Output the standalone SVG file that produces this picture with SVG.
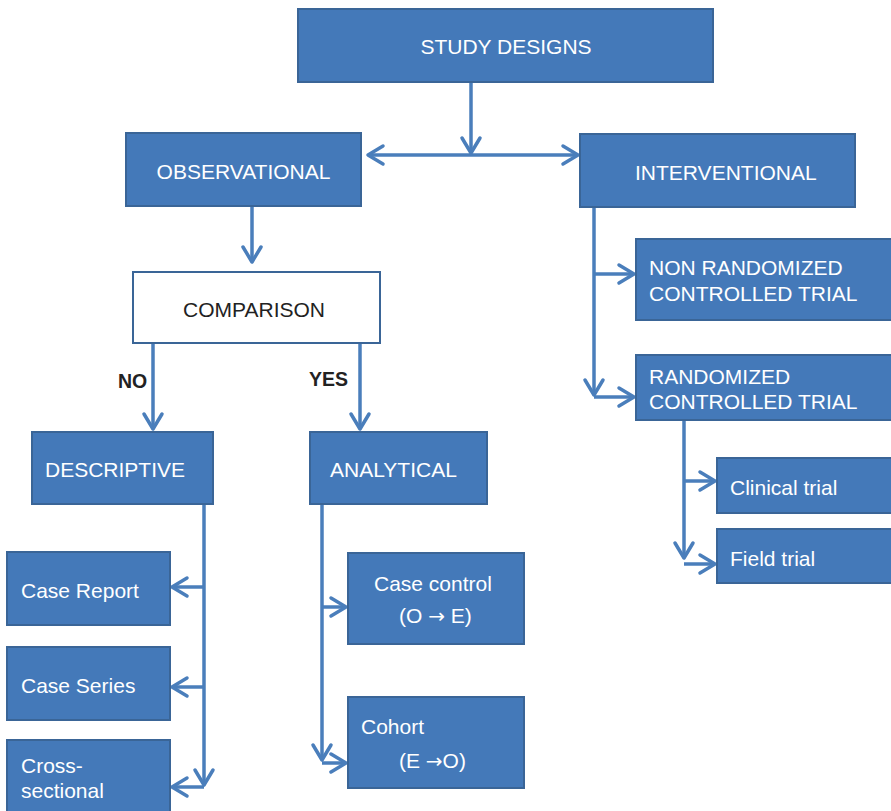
<svg xmlns="http://www.w3.org/2000/svg" width="891" height="811" viewBox="0 0 891 811">
  <style>
    .box { fill: #4479b9; stroke: #3a6597; stroke-width: 2; }
    .plain { fill: #ffffff; stroke: #3a6597; stroke-width: 2; }
    .t { font-family: "Liberation Sans", Arial, sans-serif; font-size: 21px; fill: #ffffff; }
    .tc { text-anchor: middle; }
    .dark { fill: #222222; }
    .sym { font-family: "DejaVu Sans", sans-serif; font-size: 20px; }
    .lbl { font-family: "Liberation Sans", Arial, sans-serif; font-size: 19.5px; font-weight: bold; fill: #222222; }
    .con { fill: none; stroke: #4a7ebb; stroke-width: 3.5; }
    .arr { marker-end: url(#chev); }
  </style>
  <defs>
    <marker id="chev" markerUnits="userSpaceOnUse" orient="auto" refX="0" refY="0" markerWidth="40" markerHeight="40" viewBox="-20 -20 40 40" overflow="visible">
      <path d="M-15,-9 L0,0 L-15,9" fill="none" stroke="#4a7ebb" stroke-width="3.5" stroke-linecap="round" stroke-linejoin="round"/>
    </marker>
  </defs>

  <rect width="891" height="811" fill="#ffffff"/>

  <!-- connectors -->
  <g id="connectors">
    <path class="con arr" d="M471,82 V153"/>
    <path class="con arr" d="M471,155 H368"/>
    <path class="con arr" d="M471,155 H578"/>
    <path class="con arr" d="M252,206 V262"/>
    <path class="con arr" d="M153,343 V429"/>
    <path class="con arr" d="M360,343 V429"/>

    <path class="con arr" d="M204,503 V785"/>
    <path class="con arr" d="M204,587 H172"/>
    <path class="con arr" d="M204,687 H172"/>
    <path class="con arr" d="M204,787 H172"/>

    <path class="con arr" d="M322,504 V760"/>
    <path class="con arr" d="M322,607 H346"/>
    <path class="con arr" d="M322,763 H346"/>

    <path class="con arr" d="M594,207 V395"/>
    <path class="con arr" d="M594,274 H634"/>
    <path class="con arr" d="M594,397 H634"/>

    <path class="con arr" d="M684,420 V558"/>
    <path class="con arr" d="M684,481 H715"/>
    <path class="con arr" d="M684,564 H715"/>
  </g>

  <g id="study-designs">
    <rect class="box" x="298" y="9" width="415" height="73"/>
    <text class="t tc" x="506" y="54">STUDY DESIGNS</text>
  </g>

  <g id="observational">
    <rect class="box" x="126" y="133" width="235" height="73"/>
    <text class="t tc" x="243.5" y="179">OBSERVATIONAL</text>
  </g>

  <g id="interventional">
    <rect class="box" x="580" y="134" width="275" height="73"/>
    <text class="t" x="635" y="180">INTERVENTIONAL</text>
  </g>

  <g id="comparison">
    <rect class="plain" x="133" y="272" width="247" height="71"/>
    <text class="t tc dark" x="254" y="317">COMPARISON</text>
  </g>

  <g id="label-no">
    <text class="lbl" x="118" y="388">NO</text>
  </g>
  <g id="label-yes">
    <text class="lbl" x="309" y="386">YES</text>
  </g>

  <g id="non-randomized">
    <rect class="box" x="636" y="239" width="265" height="81"/>
    <text class="t" x="649" y="275">NON RANDOMIZED</text>
    <text class="t" x="649" y="301">CONTROLLED TRIAL</text>
  </g>

  <g id="randomized">
    <rect class="box" x="636" y="355" width="265" height="65"/>
    <text class="t" x="649" y="384">RANDOMIZED</text>
    <text class="t" x="649" y="409">CONTROLLED TRIAL</text>
  </g>

  <g id="clinical-trial">
    <rect class="box" x="717" y="458" width="184" height="55"/>
    <text class="t" x="730" y="495">Clinical trial</text>
  </g>

  <g id="field-trial">
    <rect class="box" x="717" y="529" width="184" height="54"/>
    <text class="t" x="730" y="566">Field trial</text>
  </g>

  <g id="descriptive">
    <rect class="box" x="32" y="432" width="181" height="72"/>
    <text class="t" x="45" y="477">DESCRIPTIVE</text>
  </g>

  <g id="analytical">
    <rect class="box" x="310" y="432" width="177" height="72"/>
    <text class="t" x="330" y="477">ANALYTICAL</text>
  </g>

  <g id="case-report">
    <rect class="box" x="7" y="552" width="163" height="73"/>
    <text class="t" x="21" y="598">Case Report</text>
  </g>

  <g id="case-series">
    <rect class="box" x="7" y="647" width="163" height="73"/>
    <text class="t" x="21" y="693">Case Series</text>
  </g>

  <g id="cross-sectional">
    <rect class="box" x="7" y="740" width="163" height="80"/>
    <text class="t" x="21" y="773">Cross-</text>
    <text class="t" x="21" y="798">sectional</text>
  </g>

  <g id="case-control">
    <rect class="box" x="348" y="553" width="176" height="91"/>
    <text class="t" x="374" y="591">Case control</text>
    <text class="t" x="399" y="623">(O <tspan class="sym">→</tspan> E)</text>
  </g>

  <g id="cohort">
    <rect class="box" x="348" y="697" width="176" height="91"/>
    <text class="t" x="361" y="734">Cohort</text>
    <text class="t" x="399" y="768">(E <tspan class="sym">→</tspan>O)</text>
  </g>
</svg>
